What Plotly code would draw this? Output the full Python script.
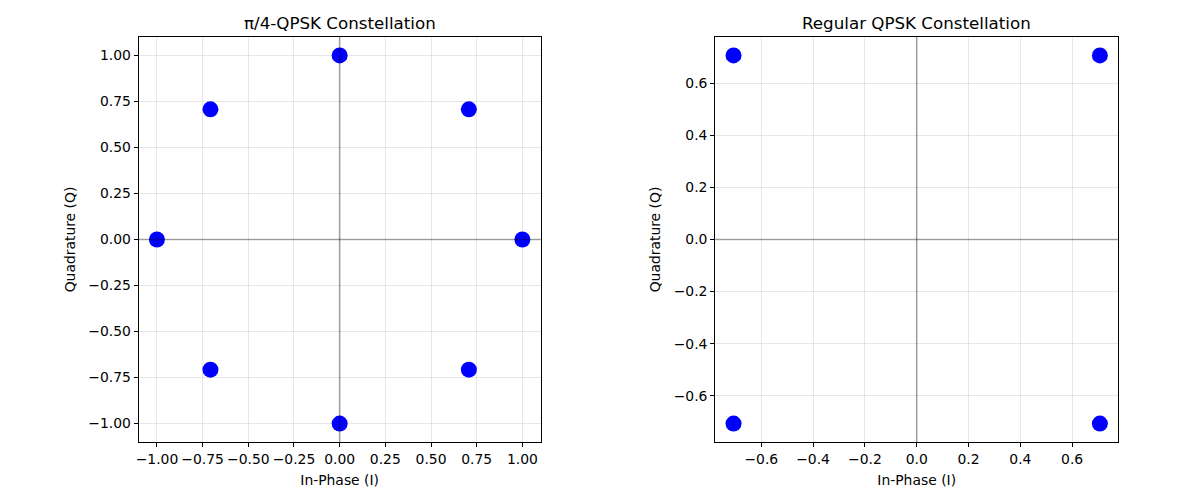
import plotly.graph_objects as go
import numpy as np

# Data
pi4_I = [1.0, 0.7071, 0.0, -0.7071, -1.0, -0.7071, 0.0, 0.7071]
pi4_Q = [0.0, 0.7071, 1.0, 0.7071, 0.0, -0.7071, -1.0, -0.7071]
qpsk_I = [0.7071, -0.7071, -0.7071, 0.7071]
qpsk_Q = [0.7071, 0.7071, -0.7071, -0.7071]
left_ticks = [-1.0, -0.75, -0.5, -0.25, 0.0, 0.25, 0.5, 0.75, 1.0]
right_ticks = [-0.6, -0.4, -0.2, 0.0, 0.2, 0.4, 0.6]
titles = ["π/4-QPSK Constellation", "Regular QPSK Constellation"]

W, H = 1200, 500
FONT = "DejaVu Sans"
blue = "#0000ff"

fig = go.Figure()
fig.add_trace(go.Scatter(x=pi4_I, y=pi4_Q, mode="markers", xaxis="x", yaxis="y",
                         marker=dict(color=blue, size=16, line=dict(width=0)),
                         showlegend=False, hoverinfo="x+y"))
fig.add_trace(go.Scatter(x=qpsk_I, y=qpsk_Q, mode="markers", xaxis="x2", yaxis="y2",
                         marker=dict(color=blue, size=16, line=dict(width=0)),
                         showlegend=False, hoverinfo="x+y"))

ydom = [1 - 442 / H, 1 - 37 / H]
xdom1 = [136 / W, 539 / W]
xdom2 = [714 / W, 1118 / W]

def ax(domain, rng, ticks, fmt, title, anchor, standoff):
    return dict(domain=domain, range=rng, tickvals=ticks, tickformat=fmt,
                showline=True, mirror=True, linecolor="black", linewidth=1,
                ticks="outside", ticklen=4, tickwidth=1, tickcolor="black",
                showgrid=True, gridcolor="rgba(176,176,176,0.3)", gridwidth=0.8,
                zeroline=False, anchor=anchor,
                tickfont=dict(family=FONT, size=13.9, color="black"),
                title=dict(text=title, font=dict(family=FONT, size=13.9, color="black"), standoff=standoff))

m1 = 1.1
m2 = 0.7071 * 1.1
fig.update_layout(
    width=W, height=H, margin=dict(l=0, r=0, t=0, b=0),
    paper_bgcolor="white", plot_bgcolor="white",
    font=dict(family=FONT, size=13.9, color="black"),
    xaxis=ax(xdom1, [-m1, m1], left_ticks, ".2f", "In-Phase (I)", "y", 9),
    yaxis=ax(ydom, [-m1, m1], left_ticks, ".2f", "Quadrature (Q)", "x", 9),
    xaxis2=ax(xdom2, [-m2, m2], right_ticks, ".1f", "In-Phase (I)", "y2", 9),
    yaxis2=ax(ydom, [-m2, m2], right_ticks, ".1f", "Quadrature (Q)", "x2", 9),
)

line_style = dict(color="rgba(0,0,0,0.33)", width=1.6)
for xr, yr in (("x", "y"), ("x2", "y2")):
    fig.add_shape(type="line", xref=xr + " domain", yref=yr, x0=0, x1=1, y0=0, y1=0,
                  line=line_style, layer="above")
    fig.add_shape(type="line", xref=xr, yref=yr + " domain", x0=0, x1=0, y0=0, y1=1,
                  line=line_style, layer="above")

for dom, t in ((xdom1, titles[0]), (xdom2, titles[1])):
    fig.add_annotation(text=t, x=(dom[0] + dom[1]) / 2, y=1 - 23 / H, xref="paper", yref="paper",
                       showarrow=False, xanchor="center", yanchor="middle",
                       font=dict(family=FONT, size=16.7, color="black"))

fig.write_html("out.html")
